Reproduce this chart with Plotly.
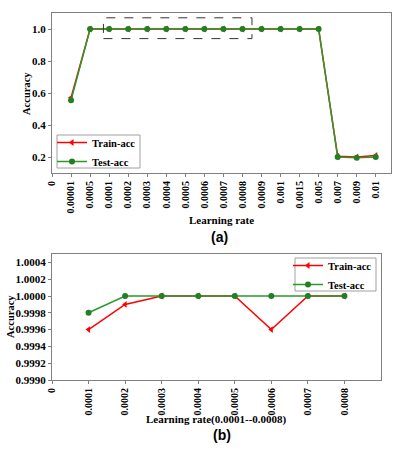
import plotly.graph_objects as go

# ---- data ----
top_labels = ["0", "0.00001", "0.0005", "0.0001", "0.0002", "0.0003", "0.0004", "0.0005",
              "0.0006", "0.0007", "0.0008", "0.0009", "0.001", "0.0015", "0.005",
              "0.007", "0.009", "0.01"]
top_train = [0.57, 1.0, 1.0, 1.0, 1.0, 1.0, 1.0, 1.0, 1.0, 1.0, 1.0, 1.0, 1.0, 1.0, 0.205, 0.20, 0.21]
top_test = [0.555, 1.0, 1.0, 1.0, 1.0, 1.0, 1.0, 1.0, 1.0, 1.0, 1.0, 1.0, 1.0, 1.0, 0.20, 0.195, 0.20]
top_yticks = [0.2, 0.4, 0.6, 0.8, 1.0]

bot_labels = ["0", "0.0001", "0.0002", "0.0003", "0.0004", "0.0005", "0.0006", "0.0007", "0.0008"]
bot_train = [0.9996, 0.9999, 1.0, 1.0, 1.0, 0.9996, 1.0, 1.0]
bot_test = [0.9998, 1.0, 1.0, 1.0, 1.0, 1.0, 1.0, 1.0]
bot_yticks = [0.9990, 0.9992, 0.9994, 0.9996, 0.9998, 1.0000, 1.0002, 1.0004]

RED = "#ff0000"
GREEN = "#2a9a2a"
GREEN_M = "#237f23"
SERIF = "Liberation Serif"
AX = "#808080"

top_x = list(range(1, len(top_train) + 1))
bot_x = list(range(1, len(bot_train) + 1))

fig = go.Figure()

fig.add_trace(go.Scatter(x=top_x, y=top_train, name="Train-acc", mode="lines+markers",
                         line=dict(color=RED, width=1.5),
                         marker=dict(symbol="triangle-left", size=6, color=RED),
                         xaxis="x", yaxis="y", legend="legend"))
fig.add_trace(go.Scatter(x=top_x, y=top_test, name="Test-acc", mode="lines+markers",
                         line=dict(color=GREEN, width=1.5),
                         marker=dict(symbol="circle", size=6, color=GREEN_M),
                         xaxis="x", yaxis="y", legend="legend"))
fig.add_trace(go.Scatter(x=bot_x, y=bot_train, name="Train-acc", mode="lines+markers",
                         line=dict(color=RED, width=1.5),
                         marker=dict(symbol="triangle-left", size=6, color=RED),
                         xaxis="x2", yaxis="y2", legend="legend2"))
fig.add_trace(go.Scatter(x=bot_x, y=bot_test, name="Test-acc", mode="lines+markers",
                         line=dict(color=GREEN, width=1.5),
                         marker=dict(symbol="circle", size=6, color=GREEN_M),
                         xaxis="x2", yaxis="y2", legend="legend2"))

xtickfont = dict(family=SERIF, size=10, color="black", weight="bold")
ytickfont = dict(family=SERIF, size=11, color="black", weight="bold")
axis_common = dict(showgrid=False, zeroline=False, showline=True, linecolor=AX, linewidth=1,
                   mirror=True, ticks="outside", ticklen=3, tickcolor=AX,
                   automargin=False)

W, H = 393, 450
def px(v):
    return v / W
def py(v):
    return 1 - v / H

legend_font = dict(family=SERIF, size=10.5, color="black", weight="bold")

def ann(text, x, y, size, family=SERIF, angle=0):
    return dict(text=text, x=px(x), y=py(y), xref="paper", yref="paper",
                xanchor="center", yanchor="middle", textangle=angle, showarrow=False,
                font=dict(family=family, size=size, weight="bold", color="black"))

def box(x0, x1, y0, y1):
    return dict(type="rect", xref="paper", yref="paper",
                x0=px(x0), x1=px(x1), y0=py(y1), y1=py(y0),
                line=dict(color="#a0a0a0", width=1),
                fillcolor="white", layer="below")

fig.update_layout(
    width=W, height=H,
    margin=dict(l=0, r=0, t=0, b=0),
    paper_bgcolor="white", plot_bgcolor="rgba(0,0,0,0)",
    xaxis=dict(domain=[px(52), px(391)], range=[0, 17.8], tickmode="array",
               tickvals=list(range(len(top_labels))), ticktext=top_labels, tickangle=-90,
               anchor="y", tickfont=xtickfont, **axis_common),
    yaxis=dict(domain=[py(173), py(13)], range=[0.1, 1.1], tickmode="array",
               tickvals=top_yticks, ticktext=[f"{v:.1f}" for v in top_yticks],
               anchor="x", tickfont=ytickfont, **axis_common),
    xaxis2=dict(domain=[px(52), px(381)], range=[0, 9], tickmode="array",
                tickvals=list(range(len(bot_labels))), ticktext=bot_labels, tickangle=-90,
                anchor="y2", tickfont=xtickfont, **axis_common),
    yaxis2=dict(domain=[py(380), py(254)], range=[0.9990, 1.0005], tickmode="array",
                tickvals=bot_yticks, ticktext=[f"{v:.4f}" for v in bot_yticks],
                anchor="x2", tickfont=ytickfont, **axis_common),
    legend=dict(x=px(52), y=py(128), xanchor="left", yanchor="top",
                bgcolor="rgba(0,0,0,0)", borderwidth=0,
                font=legend_font, tracegroupgap=0, itemwidth=30),
    legend2=dict(x=px(288), y=py(251), xanchor="left", yanchor="top",
                 bgcolor="rgba(0,0,0,0)", borderwidth=0,
                 font=legend_font, tracegroupgap=0, itemwidth=30),
    showlegend=True,
    shapes=[
        box(57, 140, 135, 168),
        box(295, 376, 258, 291),
        dict(type="rect", xref="x", yref="y", x0=2.7, x1=10.5, y0=0.94, y1=1.07,
             line=dict(color="#333333", width=1, dash="dash"), fillcolor="rgba(0,0,0,0)"),
    ],
    annotations=[
        ann("Accuracy", 26, 93, 10.5, angle=-90),
        ann("Learning rate", 221, 220, 11),
        ann("(a)", 219, 237, 14, family="Liberation Sans"),
        ann("Accuracy", 10, 317, 10.5, angle=-90),
        ann("Learning rate(0.0001--0.0008)", 216, 419, 11),
        ann("(b)", 222, 435, 14, family="Liberation Sans"),
    ],
)

fig.write_html("out.html", config={"displayModeBar": False},
               post_script="document.body.style.margin='0';document.body.style.padding='0';")
